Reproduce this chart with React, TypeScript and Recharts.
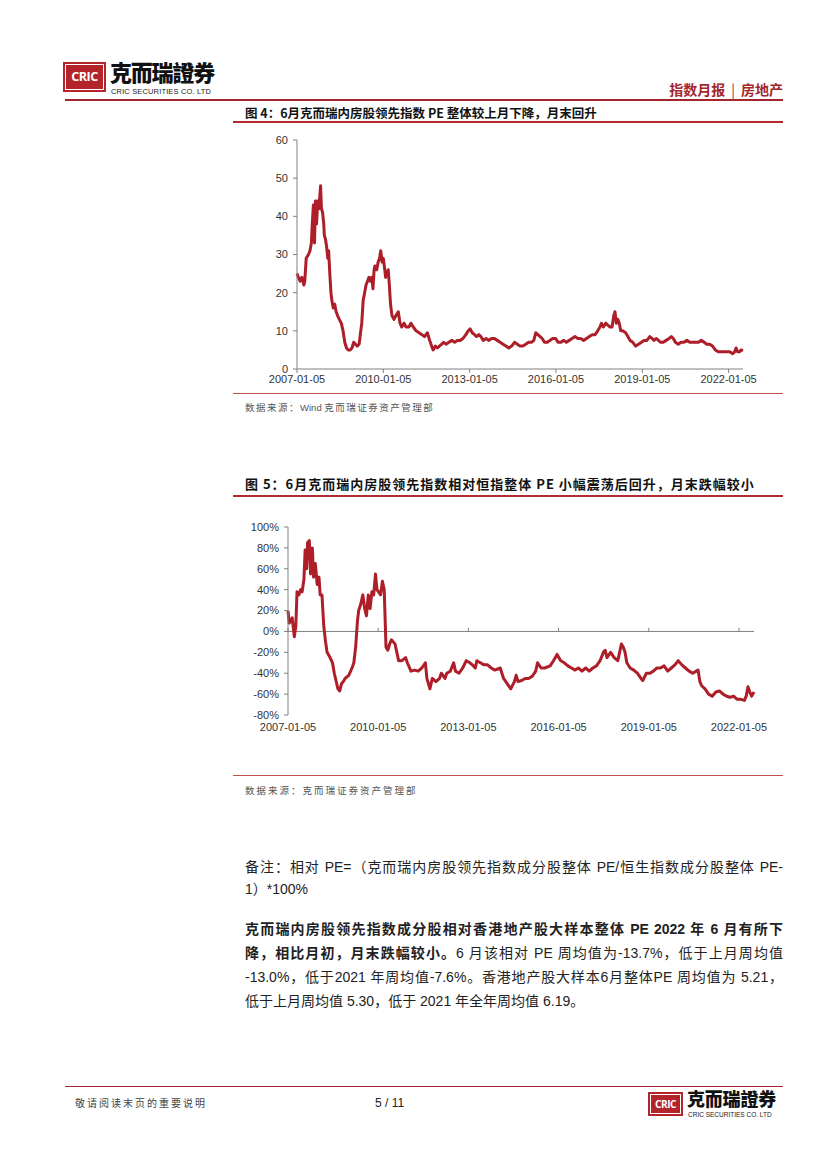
import React from "react";
import {
  LineChart,
  Line,
  XAxis,
  YAxis,
  ReferenceLine,
} from "recharts";

// x 轴刻度
const xTickYears = [2007, 2010, 2013, 2016, 2019, 2022];
const xTickLabels = ["2007-01-05", "2010-01-05", "2013-01-05", "2016-01-05", "2019-01-05", "2022-01-05"];

// 图4：内房股领先指数 PE
const peTicks = [0, 10, 20, 30, 40, 50, 60];
const peYears = [
  2007.0, 2007.05, 2007.11, 2007.17, 2007.24, 2007.27, 2007.32, 2007.4, 2007.45, 2007.5,
  2007.53, 2007.57, 2007.61, 2007.64, 2007.68, 2007.72, 2007.76, 2007.79, 2007.82, 2007.85,
  2007.89, 2007.93, 2007.95, 2007.99, 2008.03, 2008.07, 2008.1, 2008.14, 2008.18, 2008.21,
  2008.26, 2008.31, 2008.36, 2008.41, 2008.47, 2008.54, 2008.6, 2008.66, 2008.72, 2008.78,
  2008.85, 2008.91, 2008.97, 2009.03, 2009.09, 2009.16, 2009.2, 2009.25, 2009.3, 2009.35,
  2009.4, 2009.45, 2009.5, 2009.55, 2009.6, 2009.64, 2009.68, 2009.71, 2009.77, 2009.82,
  2009.87, 2009.91, 2009.96, 2010.0, 2010.05, 2010.08, 2010.12, 2010.17, 2010.21, 2010.25,
  2010.3, 2010.37, 2010.44, 2010.52, 2010.58, 2010.64, 2010.72, 2010.79, 2010.89, 2010.96,
  2011.04, 2011.14, 2011.24, 2011.34, 2011.43, 2011.53, 2011.61, 2011.68, 2011.73, 2011.81,
  2011.88, 2011.95, 2012.03, 2012.1, 2012.18, 2012.28, 2012.38, 2012.48, 2012.57, 2012.67,
  2012.77, 2012.87, 2012.95, 2013.02, 2013.09, 2013.17, 2013.24, 2013.32, 2013.39, 2013.47,
  2013.57, 2013.66, 2013.76, 2013.86, 2013.96, 2014.06, 2014.16, 2014.26, 2014.36, 2014.46,
  2014.56, 2014.66, 2014.75, 2014.85, 2014.95, 2015.05, 2015.15, 2015.23, 2015.3, 2015.37,
  2015.45, 2015.52, 2015.6, 2015.7, 2015.79, 2015.89, 2015.99, 2016.07, 2016.17, 2016.27,
  2016.36, 2016.46, 2016.56, 2016.66, 2016.76, 2016.86, 2016.96, 2017.06, 2017.16, 2017.26,
  2017.36, 2017.45, 2017.53, 2017.58, 2017.65, 2017.73, 2017.8, 2017.88, 2017.95, 2018.01,
  2018.05, 2018.1, 2018.15, 2018.2, 2018.25, 2018.32, 2018.42, 2018.5, 2018.57, 2018.67,
  2018.77, 2018.87, 2018.97, 2019.06, 2019.16, 2019.26, 2019.34, 2019.41, 2019.49, 2019.56,
  2019.63, 2019.73, 2019.83, 2019.93, 2020.01, 2020.08, 2020.15, 2020.25, 2020.35, 2020.45,
  2020.55, 2020.65, 2020.75, 2020.85, 2020.95, 2021.05, 2021.15, 2021.24, 2021.34, 2021.44,
  2021.54, 2021.64, 2021.74, 2021.84, 2021.94, 2022.04, 2022.14, 2022.21, 2022.26, 2022.31,
  2022.38, 2022.43, 2022.5,
];
const peValues = [
  25, 24, 23, 24, 22, 23, 29, 30, 31, 33,
  38, 43, 33, 44, 38, 44, 42, 45, 48, 42,
  41, 38, 35, 34, 32, 29, 31, 25, 20, 18,
  16, 17, 15, 14, 13, 12, 10, 7, 5.5, 5,
  5, 5.5, 7, 6.5, 6, 6.5, 9, 12, 18, 20,
  22, 23, 24, 23, 24, 21, 26, 27, 26, 28,
  29, 31, 28, 29, 26, 24, 25, 26, 22, 17,
  14, 13, 14, 15, 12, 11, 12, 11, 11, 12,
  11, 10, 9.5, 9, 8.5, 9.5, 7.5, 6, 5, 6,
  5.5, 6, 6.5, 7, 6.5, 7, 7.5, 7, 7.5, 7.5,
  8, 9, 10, 10.5, 9.5, 9, 8.5, 9, 8.5, 7.5,
  8, 7.5, 8, 8, 7.5, 7, 6.5, 6, 5.5, 6,
  7, 6.5, 6, 6, 6.5, 7, 7, 7.5, 9.5, 9,
  8.5, 8, 7, 7, 7.5, 8, 8, 7, 7, 7.5,
  7, 7.5, 8, 8.5, 8, 8, 7.5, 8, 8.5, 9,
  9, 10, 11, 12, 11, 12, 11.5, 11, 11, 14,
  15, 12, 13, 12, 10, 10, 9.5, 8.5, 7.5, 7,
  6, 6.5, 7, 7.5, 7.5, 8.5, 8, 7.5, 8, 7.5,
  7, 7, 7.5, 8, 8.5, 8, 7, 6.5, 7, 7,
  7.5, 7, 7, 7, 7, 7.5, 7, 6.5, 6.5, 6,
  5, 4.5, 4.5, 4.5, 4.5, 4.5, 4, 4.5, 5.5, 4.5,
  4.5, 5, 4.8,
];

// 图5：相对恒指整体 PE（%）
const relTicks = [-80, -60, -40, -20, 0, 20, 40, 60, 80, 100];
const relYears = [
  2007.0, 2007.04, 2007.09, 2007.14, 2007.21, 2007.26, 2007.3, 2007.36, 2007.42, 2007.47,
  2007.53, 2007.57, 2007.62, 2007.65, 2007.71, 2007.75, 2007.81, 2007.85, 2007.91, 2007.97,
  2008.03, 2008.07, 2008.13, 2008.19, 2008.25, 2008.3, 2008.4, 2008.48, 2008.54, 2008.66,
  2008.72, 2008.78, 2008.84, 2008.9, 2009.02, 2009.13, 2009.19, 2009.25, 2009.31, 2009.35,
  2009.41, 2009.49, 2009.55, 2009.61, 2009.67, 2009.73, 2009.79, 2009.85, 2009.91, 2009.96,
  2010.08, 2010.14, 2010.2, 2010.26, 2010.32, 2010.38, 2010.44, 2010.5, 2010.56, 2010.62,
  2010.68, 2010.79, 2010.91, 2010.97, 2011.09, 2011.21, 2011.33, 2011.45, 2011.57, 2011.62,
  2011.72, 2011.8, 2011.92, 2012.04, 2012.1, 2012.22, 2012.28, 2012.4, 2012.51, 2012.57,
  2012.69, 2012.81, 2012.93, 2013.05, 2013.17, 2013.23, 2013.28, 2013.4, 2013.52, 2013.64,
  2013.76, 2013.88, 2014.06, 2014.17, 2014.29, 2014.41, 2014.53, 2014.59, 2014.65, 2014.77,
  2014.89, 2015.0, 2015.12, 2015.24, 2015.3, 2015.42, 2015.54, 2015.72, 2015.83, 2015.95,
  2016.07, 2016.19, 2016.31, 2016.43, 2016.55, 2016.66, 2016.78, 2016.9, 2017.02, 2017.14,
  2017.26, 2017.38, 2017.49, 2017.55, 2017.61, 2017.73, 2017.85, 2017.97, 2018.03, 2018.09,
  2018.15, 2018.21, 2018.27, 2018.38, 2018.5, 2018.62, 2018.74, 2018.8, 2018.92, 2019.04,
  2019.15, 2019.27, 2019.39, 2019.51, 2019.63, 2019.75, 2019.87, 2019.98, 2020.1, 2020.22,
  2020.34, 2020.46, 2020.58, 2020.64, 2020.7, 2020.76, 2020.87, 2020.99, 2021.11, 2021.23,
  2021.35, 2021.47, 2021.59, 2021.7, 2021.82, 2021.94, 2022.06, 2022.18, 2022.24, 2022.3,
  2022.36, 2022.42, 2022.46, 2022.5,
];
const relValues = [
  20, 8, 10, 13, -5, 5, 38, 35, 40, 38,
  50, 78, 60, 85, 87, 55, 80, 52, 65, 45,
  52, 35, 35, 5, -10, -20, -25, -30, -40, -55,
  -57, -50, -48, -45, -42, -35, -30, -15, 10, 20,
  25, 35, 22, 15, 35, 22, 38, 35, 55, 40,
  35, 48, 40, -15, -18, -12, -8, -10, -12, -20,
  -28, -28, -25, -30, -38, -37, -38, -35, -30, -45,
  -55, -45, -48, -45, -40, -45, -40, -38, -30, -38,
  -40, -35, -28, -30, -33, -35, -28, -30, -32, -32,
  -35, -37, -35, -45, -50, -55, -48, -42, -48, -47,
  -45, -45, -43, -38, -30, -35, -35, -33, -28, -22,
  -28, -30, -33, -35, -37, -35, -38, -35, -38, -35,
  -33, -28, -20, -18, -25, -20, -25, -28, -20, -12,
  -15, -20, -30, -35, -37, -40, -45, -47, -40, -40,
  -38, -35, -35, -33, -38, -35, -32, -28, -32, -35,
  -38, -40, -38, -37, -48, -52, -55, -60, -62, -58,
  -57, -60, -62, -63, -62, -65, -65, -66, -62, -53,
  -58, -62, -60, -58,
];

const peData = peYears.map((t, i) => ({ t, v: peValues[i] }));
const relData = relYears.map((t, i) => ({ t, v: relValues[i] }));

const RED = "#ad1e28";
const DARK_RED = "#a3262d";
const AXIS = "#808080";
const SANS = "'Liberation Sans', Arial, 'Noto Sans CJK SC', sans-serif";
const CJK = "'Noto Sans CJK SC', 'Liberation Sans', sans-serif";

const tickStyle = { fontSize: 11, fill: "#333", fontFamily: SANS };
const fmtYear = (v: number) => xTickLabels[xTickYears.indexOf(v)] ?? "";

// 公司标识：红框 + 中文名 + 英文名
function Logo({ left, top, box, big, bigTop, spacing, small, smallTop, smallSpacing }: any) {
  return (
    <>
      <div
        style={{
          position: "absolute",
          left,
          top,
          width: box[0],
          height: box[1],
          background: "#b3252b",
        }}
      >
        <div
          style={{
            position: "absolute",
            inset: 2,
            border: "1px solid #fff",
            color: "#fff",
            fontFamily: "'Open Sans', 'Liberation Sans', sans-serif",
            fontWeight: 700,
            fontSize: box[1] * 0.42,
            lineHeight: `${box[1] - 6}px`,
            textAlign: "center",
            letterSpacing: -0.5,
          }}
        >
          CRIC
        </div>
      </div>
      <div
        style={{
          position: "absolute",
          left: left + box[0] + 4,
          top: bigTop,
          fontFamily: "'Noto Sans CJK TC', 'Noto Sans CJK SC', sans-serif",
          fontWeight: 900,
          fontSize: big,
          lineHeight: `${big}px`,
          letterSpacing: spacing,
          color: "#111",
          whiteSpace: "nowrap",
        }}
      >
        克而瑞證券
      </div>
      <div
        style={{
          position: "absolute",
          left: left + box[0] + 5,
          top: smallTop,
          fontFamily: SANS,
          fontSize: small,
          lineHeight: `${small}px`,
          color: "#222",
          whiteSpace: "nowrap",
          letterSpacing: smallSpacing,
        }}
      >
        CRIC SECURITIES CO. LTD
      </div>
    </>
  );
}

const abs = (s: any): React.CSSProperties => ({ position: "absolute", whiteSpace: "nowrap", ...s });

export default function App() {
  const bodyLine = (top: number, justify: boolean, children: React.ReactNode) => (
    <div
      style={abs({
        left: 245,
        top,
        width: 538,
        fontFamily: SANS,
        fontSize: 14,
        lineHeight: "20px",
        color: "#222",
        textAlign: justify ? "justify" : "left",
        textAlignLast: justify ? "justify" : "left",
        whiteSpace: "normal",
      })}
    >
      {children}
    </div>
  );

  return (
    <div
      style={{
        position: "absolute",
        left: 0,
        top: 0,
        width: 827,
        height: 1169,
        background: "#fff",
        overflow: "hidden",
      }}
    >
      {/* 页眉 */}
      <Logo
        left={63}
        top={62}
        box={[43, 30]}
        big={22}
        bigTop={60}
        spacing={-1.2}
        small={7.5}
        smallTop={87.5}
        smallSpacing={0.15}
      />
      <div
        style={abs({
          right: 827 - 783,
          top: 80,
          fontFamily: CJK,
          fontWeight: 700,
          fontSize: 14,
          lineHeight: "18px",
          color: DARK_RED,
        })}
      >
        指数月报
        <span style={{ fontWeight: 400, margin: "0 6px" }}>|</span>
        房地产
      </div>
      <div style={abs({ left: 65, top: 99, width: 718, height: 1.5, background: DARK_RED })} />

      {/* 图4 */}
      <div
        style={abs({
          left: 245,
          top: 104,
          fontFamily: CJK,
          fontWeight: 700,
          fontSize: 12.5,
          lineHeight: "17px",
          color: "#111",
        })}
      >
        图 4：6月克而瑞内房股领先指数 PE 整体较上月下降，月末回升
      </div>
      <div style={abs({ left: 233, top: 121, width: 550, height: 2, background: "#b32c32" })} />

      <div style={abs({ left: 233, top: 130 })}>
        <LineChart width={550} height={269} data={peData} margin={{ top: 10, right: 40, left: 24, bottom: 5 }}>
          <XAxis
            dataKey="t"
            type="number"
            domain={[2007, 2022.5]}
            ticks={xTickYears}
            tickFormatter={fmtYear}
            interval={0}
            tick={tickStyle}
            stroke={AXIS}
            tickSize={4}
            tickMargin={2}
            height={25}
          />
          <YAxis
            type="number"
            domain={[0, 60]}
            ticks={peTicks}
            interval={0}
            tick={tickStyle}
            stroke={AXIS}
            tickSize={4}
            tickMargin={5}
            width={40}
          />
          <Line
            dataKey="v"
            type="linear"
            stroke={RED}
            strokeWidth={3}
            strokeLinejoin="round"
            dot={false}
            activeDot={false}
            isAnimationActive={false}
          />
        </LineChart>
      </div>

      <div style={abs({ left: 233, top: 393, width: 550, height: 1, background: "#c0504d" })} />
      <div
        style={abs({
          left: 245,
          top: 401,
          fontFamily: CJK,
          fontSize: 9.5,
          lineHeight: "13px",
          color: "#555",
          letterSpacing: 1.5,
        })}
      >
        数据来源：<span style={{ fontFamily: SANS, letterSpacing: 0 }}>Wind </span>克而瑞证券资产管理部
      </div>

      {/* 图5 */}
      <div
        style={abs({
          left: 245,
          top: 475,
          fontFamily: CJK,
          fontWeight: 700,
          fontSize: 13,
          lineHeight: "17px",
          color: "#111",
          letterSpacing: 1,
        })}
      >
        图 5：6月克而瑞内房股领先指数相对恒指整体 PE 小幅震荡后回升，月末跌幅较小
      </div>
      <div style={abs({ left: 233, top: 495, width: 550, height: 2, background: "#b32c32" })} />

      <div style={abs({ left: 233, top: 515 })}>
        <LineChart width={550} height={230} data={relData} margin={{ top: 12, right: 29, left: 10, bottom: 5 }}>
          <XAxis
            dataKey="t"
            type="number"
            domain={[2007, 2022.5]}
            ticks={xTickYears}
            tickFormatter={fmtYear}
            interval={0}
            tick={tickStyle}
            axisLine={false}
            tickLine={false}
            tickSize={6}
            tickMargin={2}
            height={25}
          />
          <YAxis
            type="number"
            domain={[-80, 100]}
            ticks={relTicks}
            interval={0}
            tickFormatter={(v: number) => `${v}%`}
            tick={tickStyle}
            stroke={AXIS}
            tickSize={4}
            tickMargin={5}
            width={45}
          />
          <ReferenceLine y={0} stroke={AXIS} strokeWidth={1} />
          {xTickYears.map((yr) => (
            <ReferenceLine
              key={yr}
              segment={[
                { x: yr, y: 0 },
                { x: yr, y: 3.5 },
              ]}
              stroke={AXIS}
            />
          ))}
          <Line
            dataKey="v"
            type="linear"
            stroke={RED}
            strokeWidth={3}
            strokeLinejoin="round"
            dot={false}
            activeDot={false}
            isAnimationActive={false}
          />
        </LineChart>
      </div>

      <div style={abs({ left: 233, top: 775, width: 550, height: 1, background: "#c0504d" })} />
      <div
        style={abs({
          left: 245,
          top: 784,
          fontFamily: CJK,
          fontSize: 9.5,
          lineHeight: "13px",
          color: "#555",
          letterSpacing: 2,
        })}
      >
        数据来源：克而瑞证券资产管理部
      </div>

      {/* 正文 */}
      {bodyLine(857, true, "备注：相对 PE=（克而瑞内房股领先指数成分股整体 PE/恒生指数成分股整体 PE-")}
      {bodyLine(879, false, "1）*100%")}
      {bodyLine(919, true, <b>克而瑞内房股领先指数成分股相对香港地产股大样本整体 PE 2022 年 6 月有所下</b>)}
      {bodyLine(
        943,
        true,
        <>
          <b>降，相比月初，月末跌幅较小。</b>6 月该相对 PE 周均值为-13.7%，低于上月周均值
        </>
      )}
      {bodyLine(967, true, "-13.0%，低于2021 年周均值-7.6%。香港地产股大样本6月整体PE 周均值为 5.21，")}
      {bodyLine(991, false, "低于上月周均值 5.30，低于 2021 年全年周均值 6.19。")}

      {/* 页脚 */}
      <div style={abs({ left: 65, top: 1086, width: 718, height: 1, background: DARK_RED })} />
      <div
        style={abs({
          left: 75,
          top: 1096,
          fontFamily: CJK,
          fontSize: 10,
          lineHeight: "14px",
          color: "#444",
          letterSpacing: 2,
        })}
      >
        敬请阅读末页的重要说明
      </div>
      <div style={abs({ left: 375, top: 1095, fontFamily: SANS, fontSize: 12, lineHeight: "16px", color: "#222" })}>
        5 / 11
      </div>
      <Logo
        left={648}
        top={1092}
        box={[35, 24]}
        big={18}
        bigTop={1088.5}
        spacing={-0.2}
        small={6.5}
        smallTop={1111.5}
        smallSpacing={0}
      />
    </div>
  );
}
